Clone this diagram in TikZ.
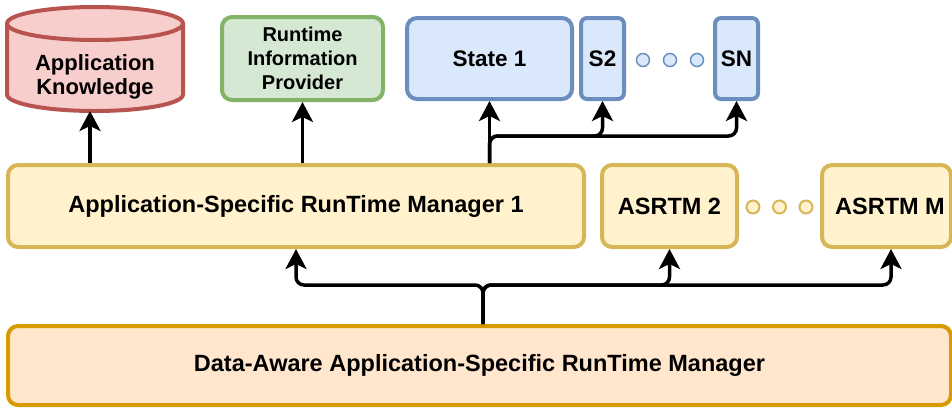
\documentclass[tikz,border=0pt]{standalone}
\usepackage{fontspec}
\setmainfont{Liberation Sans}
\usetikzlibrary{arrows.meta}
\definecolor{redS}{HTML}{B85450}
\definecolor{redF}{HTML}{F8CECC}
\definecolor{grnS}{HTML}{82B366}
\definecolor{grnF}{HTML}{D5E8D4}
\definecolor{bluS}{HTML}{6C8EBF}
\definecolor{bluF}{HTML}{DAE8FC}
\definecolor{yelS}{HTML}{D6B656}
\definecolor{yelF}{HTML}{FFF2CC}
\definecolor{orgS}{HTML}{D79B00}
\definecolor{orgF}{HTML}{FFE6CC}
\begin{document}
\begin{tikzpicture}[x=1pt,y=-1pt,
  box/.style={rounded corners=10pt, line width=4pt, align=center, inner sep=0pt,
    font=\bfseries\fontsize{23.5}{28}\selectfont},
  yelbox/.style={box, draw=yelS, fill=yelF, minimum height=82pt},
  blubox/.style={box, draw=bluS, fill=bluF, minimum height=81pt,
    font=\bfseries\fontsize{22.5}{27}\selectfont},
  arr/.style={line width=3.5pt, rounded corners=8pt,
    -{Stealth[length=20pt,width=21pt,inset=5pt]}},
  bdot/.style={circle, draw=bluS, fill=bluF, line width=1.5pt, minimum size=13pt, inner sep=0pt},
  ydot/.style={circle, draw=yelS, fill=yelF, line width=2pt, minimum size=13pt, inner sep=0pt}
]
\useasboundingbox (0,0) rectangle (952,408);

% cylinder
\path[draw=redS, fill=redF, line width=4pt]
  (7,23.5) -- (7,94.5) arc[start angle=180, end angle=360, x radius=88, y radius=-16.5]
  -- (183,23.5) arc[start angle=0, end angle=180, x radius=88, y radius=-16.5] -- cycle;
\draw[redS, line width=4pt] (7,23.5) arc[start angle=180, end angle=360, x radius=88, y radius=-16.5];
\node[align=center, font=\bfseries\fontsize{22}{24}\selectfont] (ak) at (95,77) {Application\\Knowledge};
\coordinate (akb) at (90,111);

% top row
\node[box, draw=grnS, fill=grnF, minimum width=161pt, minimum height=83pt,
  font=\bfseries\fontsize{20}{24}\selectfont] (rip) at (302.5,58.5) {\raisebox{-2pt}{\parbox{150pt}{\centering Runtime\\Information\\Provider}}};
\node[blubox, minimum width=165pt] (s1) at (489.5,58.5) {State 1};
\node[blubox, minimum width=43pt, rounded corners=6pt] (s2) at (602.5,58.5) {S2};
\node[blubox, minimum width=43pt, rounded corners=6pt] (sn) at (736.5,58.5) {SN};
\node[bdot] (bd1) at (643,60) {};
\node[bdot] (bd2) at (670,60) {};
\node[bdot] (bd3) at (697,60) {};

% middle row
\node[yelbox, minimum width=576pt] (asr1) at (296,206) {Application-Specific RunTime Manager 1};
\node[yelbox, minimum width=135pt] (asr2) at (669.5,206) {ASRTM 2};
\node[yelbox, minimum width=129pt] (asrm) at (886.5,206) {\hspace*{7pt}ASRTM M};
\node[ydot] (yd1) at (753,207) {};
\node[ydot] (yd2) at (779.5,207) {};
\node[ydot] (yd3) at (806,207) {};

% bottom
\node[box, draw=orgS, fill=orgF, minimum width=943pt, minimum height=79pt] (da) at (479.5,365.5)
  {Data-Aware Application-Specific RunTime Manager};

% arrows up from ASRTM 1
\draw[arr] (asr1.north -| akb) -- (akb);
\draw[arr] (asr1.north -| rip.south) -- (rip.south);
\draw[arr] (asr1.north -| s1.south) -- (s1.south);
\draw[arr] (asr1.north -| s1.south) -- ++(0,-27) -| (s2.south);
\draw[arr] (asr1.north -| s1.south) -- ++(0,-27) -| (sn.south);

% arrows up from bottom manager
\coordinate (dj) at ([xshift=3.5pt]da.north);
\draw[arr] (dj) -- ++(0,-39) -| (asr1.south);
\draw[arr] (dj) -- ++(0,-39) -| (asr2.south);
\draw[arr] (dj) -- ++(0,-39) -| ([xshift=4.5pt]asrm.south);
\end{tikzpicture}
\end{document}
